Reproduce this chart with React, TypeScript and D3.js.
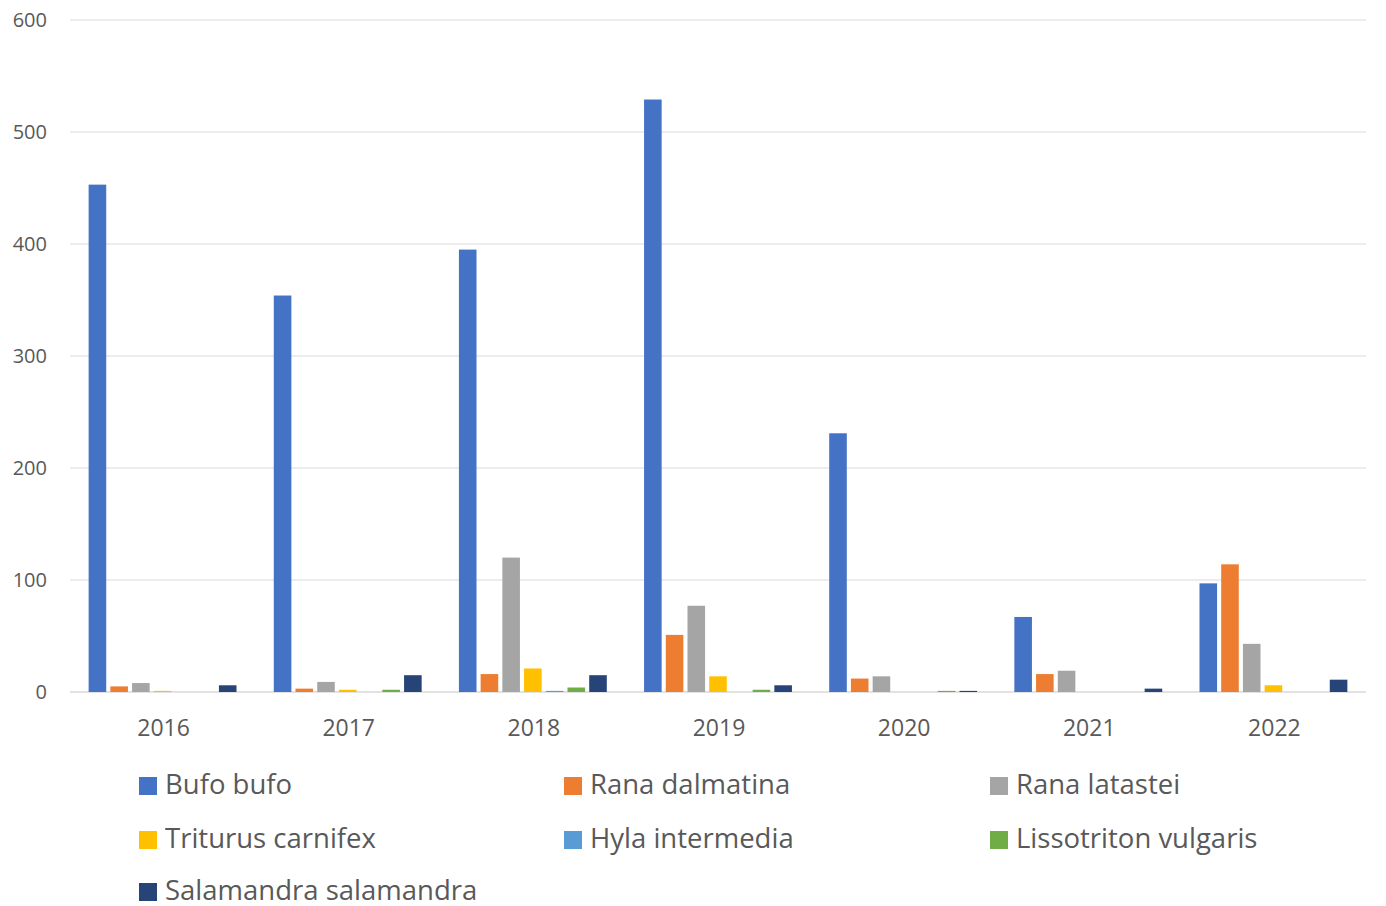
import React from "react";
import * as d3 from "d3";

const years = ["2016", "2017", "2018", "2019", "2020", "2021", "2022"];
const seriesNames = [
  "Bufo bufo",
  "Rana dalmatina",
  "Rana latastei",
  "Triturus carnifex",
  "Hyla intermedia",
  "Lissotriton vulgaris",
  "Salamandra salamandra",
];
const bufoBufo = [453, 354, 395, 529, 231, 67, 97];
const ranaDalmatina = [5, 3, 16, 51, 12, 16, 114];
const ranaLatastei = [8, 9, 120, 77, 14, 19, 43];
const triturusCarnifex = [1, 2, 21, 14, 0, 0, 6];
const hylaIntermedia = [0, 0, 1, 0, 0, 0, 0];
const lissotritonVulgaris = [0, 2, 4, 2, 1, 0, 0];
const salamandraSalamandra = [6, 15, 15, 6, 1, 3, 11];
const yTicks = [0, 100, 200, 300, 400, 500, 600];

const seriesValues = [
  bufoBufo,
  ranaDalmatina,
  ranaLatastei,
  triturusCarnifex,
  hylaIntermedia,
  lissotritonVulgaris,
  salamandraSalamandra,
];
const colors = ["#4472C4", "#ED7D31", "#A5A5A5", "#FFC000", "#5B9BD5", "#70AD47", "#264478"];

const W = 1386;
const H = 906;
const left = 70;
const right = 1366;
const top = 20;
const bottom = 692;
const textColor = "#595959";
const font = "'Open Sans', sans-serif";

export default function App() {
  const x0 = d3.scaleBand<string>().domain(years).range([left, right]).paddingInner(0).paddingOuter(0);
  const groupW = 152;
  const x1 = d3
    .scaleBand<string>()
    .domain(seriesNames)
    .range([0, groupW])
    .paddingInner(0.19)
    .paddingOuter(0.095);
  const y = d3.scaleLinear().domain([0, 600]).range([bottom, top]);

  const legendCols = [139, 564, 990];
  const legendRowTop = [777, 831, 883];

  return (
    <svg
      width={W}
      height={H}
      style={{ position: "absolute", left: 0, top: 0, display: "block", background: "#fff" }}
    >
      {yTicks.map((t) => (
        <g key={t}>
          <line x1={left} x2={right} y1={y(t)} y2={y(t)} stroke="#D9D9D9" strokeWidth={t === 0 ? 1.5 : 1} />
          <text
            x={47}
            y={y(t)}
            dy="0.35em"
            textAnchor="end"
            fontFamily={font}
            fontSize={20}
            fill={textColor}
          >
            {t}
          </text>
        </g>
      ))}
      {years.map((yr, i) => {
        const cx = (x0(yr) as number) + x0.bandwidth() / 2;
        const gx = cx - groupW / 2;
        return (
          <g key={yr}>
            {seriesNames.map((s, k) => {
              const v = seriesValues[k][i];
              if (!v) return null;
              return (
                <rect
                  key={s}
                  x={gx + (x1(s) as number)}
                  y={y(v)}
                  width={x1.bandwidth()}
                  height={y(0) - y(v)}
                  fill={colors[k]}
                />
              );
            })}
            <text
              x={cx + 1}
              y={736}
              textAnchor="middle"
              fontFamily={font}
              fontSize={23}
              fill={textColor}
            >
              {yr}
            </text>
          </g>
        );
      })}
      {seriesNames.map((s, k) => {
        const col = k % 3;
        const row = Math.floor(k / 3);
        const lx = legendCols[col];
        const ly = legendRowTop[row];
        return (
          <g key={s}>
            <rect x={lx} y={ly} width={18} height={18} fill={colors[k]} />
            <text x={lx + 26} y={ly + 17} fontFamily={font} fontSize={27.5} fill={textColor}>
              {s}
            </text>
          </g>
        );
      })}
    </svg>
  );
}
